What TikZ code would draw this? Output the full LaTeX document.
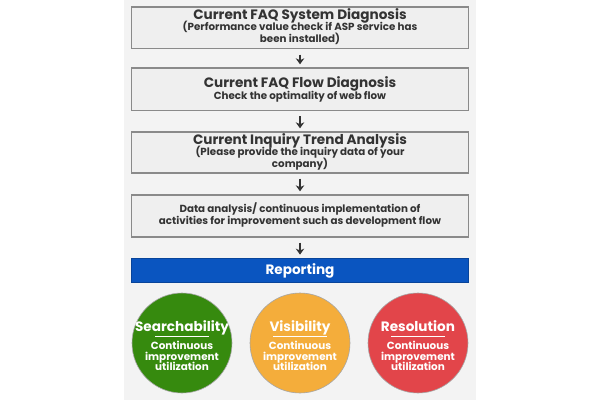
\documentclass[tikz,border=0pt]{standalone}
\usepackage{fontspec}
\setmainfont{Poppins}
\usetikzlibrary{arrows.meta}
\definecolor{panelbg}{HTML}{F3F3F3}
\definecolor{boxbg}{HTML}{EFEFEF}
\definecolor{boxline}{HTML}{8A8A8A}
\definecolor{txt}{HTML}{333333}
\definecolor{repblue}{HTML}{0A55C0}
\definecolor{cgreen}{HTML}{368A0E}
\definecolor{corange}{HTML}{F4AD3B}
\definecolor{cred}{HTML}{E2454A}
\tikzset{
  stepbox/.style={draw=boxline, line width=1.4pt, fill=boxbg, minimum width=337pt, inner sep=0pt},
  ttl/.style={text=txt, inner sep=0pt, anchor=base, font=\fontsize{13.6}{15}\selectfont\bfseries},
  sub/.style={text=txt, inner sep=0pt, anchor=base, font=\fontsize{10.3}{12}\selectfont\bfseries},
  flowarrow/.style={-{Stealth[length=6pt,width=8.5pt]}, line width=2.1pt, draw=txt},
  bubble/.style={circle, minimum size=100pt, inner sep=0pt, draw=black!35, line width=0.6pt},
  ctitle/.style={text=white, inner sep=0pt, anchor=base, font=\fontsize{13.6}{15}\selectfont\bfseries},
  cbody/.style={text=white, inner sep=0pt, anchor=base, font=\fontsize{10.4}{10.7}\selectfont\bfseries},
}
\begin{document}
\begin{tikzpicture}[x=1pt,y=-1pt]
\useasboundingbox (0,0) rectangle (600,400);
\fill[white] (0,0) rectangle (600,400);
\fill[panelbg] (124,0) rectangle (476,400);

\node[stepbox, minimum height=41.5pt] (b1) at (300,27.75) {};
\node[ttl] (b1t) at (300,19.5) {Current FAQ System Diagnosis};
\node[sub] (b1s1) at (300,30.8) {(Performance value check if ASP service has};
\node[sub] (b1s2) at (300,42.6) {been installed)};

\node[stepbox, minimum height=42.5pt] (b2) at (300,89.25) {};
\node[ttl] (b2t) at (300,87.7) {Current FAQ Flow Diagnosis};
\node[sub] (b2s) at (300,99.3) {Check the optimality of web flow};

\node[stepbox, minimum height=41pt] (b3) at (300,152.5) {};
\node[ttl] (b3t) at (300,144.3) {Current Inquiry Trend Analysis};
\node[sub] (b3s1) at (300,155.7) {(Please provide the inquiry data of your};
\node[sub] (b3s2) at (300,167.8) {company)};

\node[stepbox, minimum height=42pt] (b4) at (300,216) {};
\node[sub] (b4s1) at (300,212.7) {Data analysis/ continuous implementation of};
\node[sub] (b4s2) at (300,224.3) {activities for improvement such as development flow};

\node[draw=repblue!80!black, line width=0.8pt, fill=repblue, minimum width=337pt, minimum height=24pt, inner sep=0pt] (rep) at (300,270) {};
\node[ctitle] (rept) at (300,274.3) {Reporting};

\draw[flowarrow] ([yshift=-5.5pt]b1.south) -- ([yshift=3pt]b2.north);
\draw[flowarrow] ([yshift=-5pt]b2.south) -- ([yshift=3pt]b3.north);
\draw[flowarrow] ([yshift=-5pt]b3.south) -- ([yshift=3pt]b4.north);
\draw[flowarrow] ([yshift=-5pt]b4.south) -- ([yshift=3pt]rep.north);

\foreach \nm/\cx/\col/\ttltext in {c1/182/cgreen/Searchability, c2/300/corange/Visibility, c3/418/cred/Resolution}{
  \node[bubble, fill=\col] (\nm) at (\cx,343) {};
  \node[ctitle] (\nm t) at (\cx,331) {\ttltext};
  \draw[white, line width=0.6pt] (\cx-27,336) -- (\cx+27,336);
  \node[cbody] (\nm b1) at (\cx,349.3) {Continuous};
  \node[cbody] (\nm b2) at (\cx,360) {improvement};
  \node[cbody] (\nm b3) at (\cx,370.7) {utilization};
}
\end{tikzpicture}
\end{document}
